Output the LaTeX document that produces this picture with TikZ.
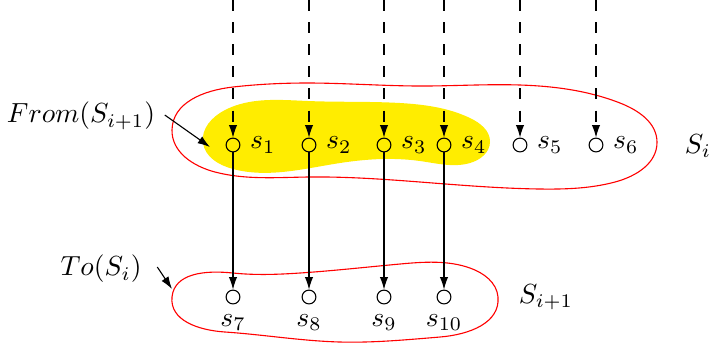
\documentclass[tikz,border=0pt]{standalone}
\usepackage{tikz}
\usetikzlibrary{arrows.meta,positioning,hobby}
\definecolor{blob}{RGB}{255,237,0}

\begin{document}
\begin{tikzpicture}[x=0.362pt,y=-0.362pt,>={Latex[length=4.5pt,width=3pt]},
  vertex/.style={circle,draw,inner sep=0pt,minimum size=5pt},
  incoming/.style={->,dash pattern=on 4pt off 4pt},
  region/.style={draw=red}]
\useasboundingbox (0,0) rectangle (713,349);
% the shaded part of S_i
\fill[blob] plot[closed hobby] coordinates {(203,143) (225,110) (308,101) (400,103) (470,118) (490,142) (470,163) (420,161) (340,163) (233,169)};
% the two sets
\path[region] plot[closed hobby] coordinates {(172,130) (233,87) (308,83) (420,86) (520,85) (620,103) (657,142) (615,182) (540,189) (420,182) (308,177) (215,172)};
\path[region] plot[closed hobby] coordinates {(172,297) (233,273) (300,273) (400,264) (470,268) (498,297) (440,337) (340,342) (225,332)};

\node[vertex] (s1) at (233,145) [label=right:$s_1$] {};
\node[vertex] (s2) at (309,145) [label=right:$s_2$] {};
\node[vertex] (s3) at (384,145) [label=right:$s_3$] {};
\node[vertex] (s4) at (444,145) [label=right:$s_4$] {};
\node[vertex] (s5) at (520,145) [label=right:$s_5$] {};
\node[vertex] (s6) at (596,145) [label=right:$s_6$] {};
\node[vertex] (s7) at (233,297) [label=below:$s_7$] {};
\node[vertex] (s8) at (309,297) [label=below:$s_8$] {};
\node[vertex] (s9) at (384,297) [label=below:$s_9$] {};
\node[vertex] (s10) at (444,297) [label=below:$s_{10}$] {};

\coordinate (in1) at (233,0);
\coordinate (in2) at (309,0);
\coordinate (in3) at (384,0);
\coordinate (in4) at (444,0);
\coordinate (in5) at (520,0);
\coordinate (in6) at (596,0);

\path[incoming]
  (in1) edge (s1)
  (in2) edge (s2)
  (in3) edge (s3)
  (in4) edge (s4)
  (in5) edge (s5)
  (in6) edge (s6);
\path[->]
  (s1) edge (s7)
  (s2) edge (s8)
  (s3) edge (s9)
  (s4) edge (s10);

\node (Si)   at (698,146) {$S_i$};
\node (Sip)  at (546,297) {$S_{i+1}$};
\node (from) at (81,116) {$From(S_{i+1})$};
\node (to)   at (101,269) {$To(S_i)$};
\coordinate (fromtip) at (210,147);
\coordinate (totip) at (172,289);
\draw[->] (from.east) ++(0,-1) -- (fromtip);
\draw[->] (to.east) ++(6,-2) -- (totip);
\end{tikzpicture}
\end{document}
